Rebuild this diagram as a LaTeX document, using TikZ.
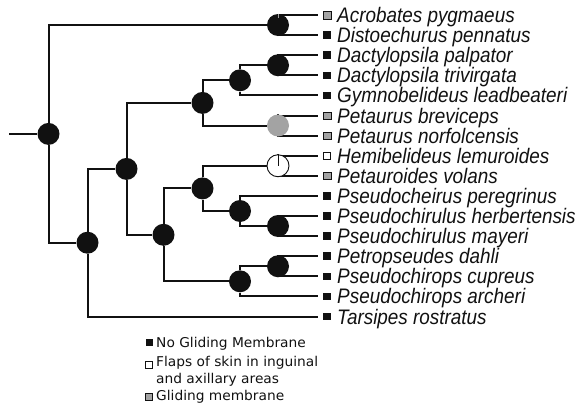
\documentclass[tikz,border=0pt]{standalone}
\usepackage{fontspec}
\setmainfont{Liberation Sans}
\newfontfamily\taxfont{Liberation Sans}[FakeStretch=0.9]
\newfontfamily\keyfont{DejaVu Sans}[FakeStretch=1.02]
\pgfdeclarelayer{edgelayer}
\pgfdeclarelayer{nodelayer}
\pgfsetlayers{edgelayer,nodelayer,main}
\definecolor{nearblack}{HTML}{111111}
\definecolor{membgrey}{HTML}{A3A3A3}
\tikzstyle{branch}=[draw=nearblack, line width=2pt]
\tikzstyle{vertex}=[circle, fill=nearblack, draw=none, minimum size=22pt, inner sep=0pt]
\tikzstyle{greyvertex}=[vertex, fill=membgrey]
\tikzstyle{whitevertex}=[vertex, fill=white, draw=nearblack, line width=0.9pt]
\tikzstyle{tipbox}=[rectangle, minimum size=7.5pt, inner sep=0pt, fill=nearblack]
\tikzstyle{greybox}=[tipbox, fill=membgrey, draw=nearblack, line width=0.5pt]
\tikzstyle{whitebox}=[tipbox, fill=white, draw=nearblack, line width=0.6pt]
\tikzstyle{keybox}=[tipbox, minimum size=7pt]
\tikzstyle{taxon}=[anchor=base west, inner sep=0pt, text=nearblack, font=\taxfont\itshape\fontsize{21}{21}\selectfont]
\tikzstyle{key}=[anchor=base west, inner sep=0pt, text=nearblack, font=\keyfont\fontsize{13.5}{13.5}\selectfont]

\begin{document}
\begin{tikzpicture}[x=1pt, y=-1pt]
	\useasboundingbox (0,0) rectangle (579,407);
	\begin{pgfonlayer}{nodelayer}
		\coordinate (0) at (9, 133.9);
		\node [style=vertex] (1) at (48.5, 133.9) {};
		\node [style=vertex] (2) at (278, 25) {};
		\node [style=vertex] (3) at (87.5, 242.7) {};
		\node [style=vertex] (4) at (126.5, 168.9) {};
		\node [style=vertex] (5) at (202.5, 102.9) {};
		\node [style=vertex] (6) at (240, 80.3) {};
		\node [style=vertex] (7) at (278, 65.25) {};
		\node [style=greyvertex] (8) at (278, 125.5) {};
		\node [style=vertex] (9) at (163.5, 234.8) {};
		\node [style=vertex] (10) at (202.5, 188.4) {};
		\node [style=whitevertex] (11) at (278, 165.75) {};
		\node [style=vertex] (12) at (240, 211) {};
		\node [style=vertex] (13) at (278, 226) {};
		\node [style=vertex] (14) at (240, 281.3) {};
		\node [style=vertex] (15) at (278, 266.25) {};
		% tips
		\coordinate (16) at (318, 15);
		\coordinate (17) at (318, 35.1);
		\coordinate (18) at (318, 55.2);
		\coordinate (19) at (318, 75.3);
		\coordinate (20) at (318, 95.4);
		\coordinate (21) at (318, 115.5);
		\coordinate (22) at (318, 135.6);
		\coordinate (23) at (318, 155.7);
		\coordinate (24) at (318, 175.8);
		\coordinate (25) at (318, 195.9);
		\coordinate (26) at (318, 216);
		\coordinate (27) at (318, 236.1);
		\coordinate (28) at (318, 256.2);
		\coordinate (29) at (318, 276.3);
		\coordinate (30) at (318, 296.4);
		\coordinate (31) at (318, 316.5);
		\node [style=greybox] (s16) at (327, 15) {};
		\node [style=tipbox] (s17) at (327, 35.1) {};
		\node [style=tipbox] (s18) at (327, 55.2) {};
		\node [style=tipbox] (s19) at (327, 75.3) {};
		\node [style=tipbox] (s20) at (327, 95.4) {};
		\node [style=greybox] (s21) at (327, 115.5) {};
		\node [style=greybox] (s22) at (327, 135.6) {};
		\node [style=whitebox] (s23) at (327, 155.7) {};
		\node [style=greybox] (s24) at (327, 175.8) {};
		\node [style=tipbox] (s25) at (327, 195.9) {};
		\node [style=tipbox] (s26) at (327, 216) {};
		\node [style=tipbox] (s27) at (327, 236.1) {};
		\node [style=tipbox] (s28) at (327, 256.2) {};
		\node [style=tipbox] (s29) at (327, 276.3) {};
		\node [style=tipbox] (s30) at (327, 296.4) {};
		\node [style=tipbox] (s31) at (327, 316.5) {};
		\node [style=taxon] (l16) at (337, 22.5) {Acrobates pygmaeus};
		\node [style=taxon] (l17) at (337, 42.6) {Distoechurus pennatus};
		\node [style=taxon] (l18) at (337, 62.7) {Dactylopsila palpator};
		\node [style=taxon] (l19) at (337, 82.8) {Dactylopsila trivirgata};
		\node [style=taxon] (l20) at (337, 102.9) {Gymnobelideus leadbeateri};
		\node [style=taxon] (l21) at (337, 123) {Petaurus breviceps};
		\node [style=taxon] (l22) at (337, 143.1) {Petaurus norfolcensis};
		\node [style=taxon] (l23) at (337, 163.2) {Hemibelideus lemuroides};
		\node [style=taxon] (l24) at (337, 183.3) {Petauroides volans};
		\node [style=taxon] (l25) at (337, 203.4) {Pseudocheirus peregrinus};
		\node [style=taxon] (l26) at (337, 223.5) {Pseudochirulus herbertensis};
		\node [style=taxon] (l27) at (337, 243.6) {Pseudochirulus mayeri};
		\node [style=taxon] (l28) at (337, 263.7) {Petropseudes dahli};
		\node [style=taxon] (l29) at (337, 283.8) {Pseudochirops cupreus};
		\node [style=taxon] (l30) at (337, 303.9) {Pseudochirops archeri};
		\node [style=taxon] (l31) at (337, 324) {Tarsipes rostratus};
		% legend
		\node [style=keybox] (k1) at (149, 342.8) {};
		\node [style=keybox, fill=white, draw=nearblack, line width=0.6pt] (k2) at (149, 364.5) {};
		\node [style=keybox, fill=membgrey, draw=nearblack, line width=0.6pt] (k3) at (149, 396.3) {};
		\node [style=key] (t1) at (156, 347.5) {No Gliding Membrane};
		\node [style=key] (t2) at (156, 366.5) {Flaps of skin in inguinal};
		\node [style=key] (t3) at (156, 383.5) {and axillary areas};
		\node [style=key] (t4) at (156, 400.5) {Gliding membrane};
	\end{pgfonlayer}
	\begin{pgfonlayer}{edgelayer}
		\draw [style=branch] (0) -- (1);
		\draw [style=branch] (1) |- (2);
		\draw [style=branch] (1) |- (3);
		\draw [style=branch] (2) |- (16);
		\draw [style=branch] (2) |- (17);
		\draw [style=branch] (3) |- (4);
		\draw [style=branch] (3) |- (31);
		\draw [style=branch] (4) |- (5);
		\draw [style=branch] (4) |- (9);
		\draw [style=branch] (5) |- (6);
		\draw [style=branch] (5) |- (8);
		\draw [style=branch] (6) |- (7);
		\draw [style=branch] (6) |- (20);
		\draw [style=branch] (7) |- (18);
		\draw [style=branch] (7) |- (19);
		\draw [style=branch] (8) |- (21);
		\draw [style=branch] (8) |- (22);
		\draw [style=branch] (9) |- (10);
		\draw [style=branch] (9) |- (14);
		\draw [style=branch] (10) |- (11);
		\draw [style=branch] (10) |- (12);
		\draw [style=branch] (11) |- (23);
		\draw [style=branch] (11) |- (24);
		\draw [style=branch] (12) |- (25);
		\draw [style=branch] (12) |- (13);
		\draw [style=branch] (13) |- (26);
		\draw [style=branch] (13) |- (27);
		\draw [style=branch] (14) |- (15);
		\draw [style=branch] (14) |- (30);
		\draw [style=branch] (15) |- (28);
		\draw [style=branch] (15) |- (29);
	\end{pgfonlayer}
	% pie slices
	\draw [draw=membgrey, line width=0.8pt] (2.north) -- ++(0, 4);
	\draw [draw=nearblack, line width=0.8pt] (11.north) -- (11.center);
\end{tikzpicture}
\end{document}
